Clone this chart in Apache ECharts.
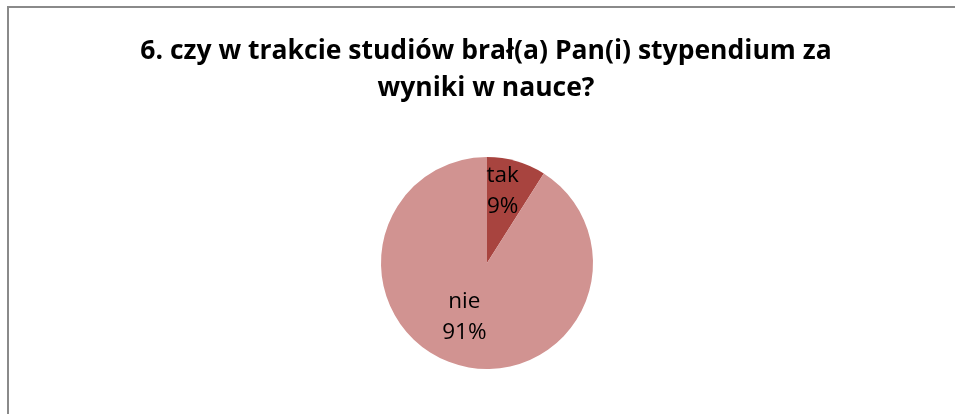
<!DOCTYPE html>
<html>
<head>
<meta charset="utf-8">
<script src="https://cdn.jsdelivr.net/npm/echarts@6/dist/echarts.min.js"></script>
<style>
  html, body { margin: 0; padding: 0; background: #fff; }
  #main { width: 955px; height: 414px; }
</style>
</head>
<body>
<div id="main"></div>
<script>
// dane z wykresu
const categories = ['tak', 'nie']
const values = [9, 91]
const colors = ['#A8443F', '#D19391']
const titleText = '6. czy w trakcie studiów brał(a) Pan(i) stypendium za\nwyniki w nauce?'

const chart = echarts.init(document.getElementById('main'))

const pieData = categories.map((name, i) => ({
  name: name,
  value: values[i],
  itemStyle: { color: colors[i] },
  label: i === 1 ? { padding: [0, 14, 0, 0] } : {}
}))

chart.setOption({
  animation: false,
  graphic: [
    {
      type: 'rect',
      shape: { x: 8, y: 7, width: 1000, height: 500 },
      style: { fill: 'none', stroke: '#8a8a8a', lineWidth: 2 },
      silent: true
    }
  ],
  title: {
    text: titleText,
    left: 481,
    textAlign: 'center',
    top: 28,
    textStyle: {
      fontFamily: 'Open Sans',
      fontWeight: 'bold',
      fontSize: 26.5,
      lineHeight: 37,
      color: '#000'
    }
  },
  series: [
    {
      type: 'pie',
      center: [487, 263],
      radius: 106,
      startAngle: 90,
      clockwise: true,
      data: pieData,
      label: {
        show: true,
        position: 'inside',
        // "tak" w oryginale leży bliżej krawędzi - pusty wiersz pod spodem podnosi go
        formatter: p => p.dataIndex === 0 ? p.name + '\n' + p.percent + '%\n{gap| }' : p.name + '\n' + p.percent + '%',
        fontFamily: 'Open Sans',
        fontSize: 22.5,
        lineHeight: 31,
        color: '#000',
        rich: {
          gap: { lineHeight: 36, fontSize: 10 }
        }
      },
      labelLine: { show: false },
      itemStyle: { borderWidth: 0 },
      emphasis: { disabled: true }
    }
  ]
})
</script>
</body>
</html>
